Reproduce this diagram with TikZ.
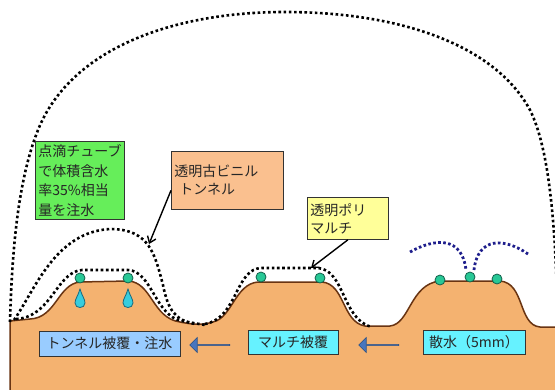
\documentclass[tikz,border=0pt]{standalone}
\usepackage{fontspec}
\setmainfont{Noto Sans CJK JP}
\usepackage{xcolor}
\usepackage{tikz}
\usetikzlibrary{arrows.meta,shapes.arrows}
\definecolor{soil}{RGB}{244,178,112}
\definecolor{soilline}{RGB}{105,52,18}
\definecolor{emit}{RGB}{40,200,150}
\definecolor{emitline}{RGB}{20,95,75}
\definecolor{drop}{RGB}{55,205,222}
\definecolor{dropline}{RGB}{25,105,125}
\definecolor{navy}{RGB}{30,30,140}
\definecolor{dripgreen}{RGB}{102,238,90}
\definecolor{peach}{RGB}{250,192,143}
\definecolor{paleyellow}{RGB}{255,255,153}
\definecolor{skyblue}{RGB}{153,204,255}
\definecolor{aqua}{RGB}{102,242,255}
\definecolor{arrblue}{RGB}{72,118,190}
\definecolor{arrline}{RGB}{45,80,130}

\begin{document}
\begin{tikzpicture}[x=1pt, y=-1pt,
    dots/.style={line width=2.6pt, dash pattern=on 2.6pt off 2.6pt},
    spray/.style={draw=navy, line width=2.8pt, dash pattern=on 2.6pt off 2.4pt},
    emitter/.style={circle, fill=emit, draw=emitline, line width=0.8pt,
                    minimum size=10pt, inner sep=0pt},
    note/.style={rectangle, draw=black!80, line width=0.8pt, align=left,
                 inner sep=3pt, anchor=north west, text=black!85,
                 font={\fontsize{14}{18}\selectfont}},
    dripnote/.style={note, fill=dripgreen, minimum width=88pt, minimum height=78pt,
                     font={\fontsize{14}{19.5}\selectfont}},
    stagebox/.style={rectangle, draw=black!80, line width=0.8pt, inner sep=0pt,
                     minimum height=25pt, text=black!85, font={\fontsize{14}{18}\selectfont}},
    flow/.style={single arrow, shape border rotate=180, fill=arrblue, draw=arrline,
                 line width=0.6pt, minimum height=40pt, minimum width=15pt,
                 single arrow head extend=3.5pt, inner sep=0pt},
    pointer/.style={-{Straight Barb[length=6pt,width=9pt]}, line width=1.4pt}]
\clip (0,0) rectangle (555,389);
\fill[white] (0,0) rectangle (555,389);

\filldraw[fill=soil, draw=soilline, line width=1.5pt]
  (10,392) -- (10,321) -- (30,319) .. controls (56,318) and (58,284) .. (80,282)
  -- (128,281) .. controls (152,282) and (152,318) .. (180,322)
  .. controls (195,325) and (203,325) .. (213,322)
  .. controls (232,318) and (235,284) .. (258,282)
  -- (322,282) .. controls (345,284) and (342,322) .. (365,326)
  -- (390,326) .. controls (410,324) and (410,284) .. (440,281)
  -- (500,281) .. controls (525,283) and (518,325) .. (540,327)
  -- (558,327) -- (558,392) -- cycle;

\foreach \x in {80,128}
  \filldraw[fill=drop, draw=dropline, line width=0.8pt]
    (\x,289) .. controls (\x+2,296) and (\x+5,299) .. (\x+5,303)
    .. controls (\x+5,309) and (\x-5,309) .. (\x-5,303)
    .. controls (\x-5,299) and (\x-2,296) .. cycle;

\node[emitter] (e11) at (80,278) {};
\node[emitter] (e12) at (128,278) {};
\node[emitter] (e21) at (261,277) {};
\node[emitter] (e22) at (320,278) {};
\node[emitter] (e31) at (440,280) {};
\node[emitter] (e32) at (470,277) {};
\node[emitter] (e33) at (497,279) {};

\draw[dots] (10,322) .. controls (12,250) and (18,180) .. (38,130)
  .. controls (70,50) and (170,12) .. (285,12)
  .. controls (400,12) and (495,45) .. (530,110)
  .. controls (550,150) and (556,230) .. (558,330);
\draw[dots] (14,320) .. controls (35,290) and (55,232) .. (110,229)
  .. controls (150,229) and (155,255) .. (163,285)
  .. controls (168,310) and (175,320) .. (195,324);
\draw[dots] (16,319) .. controls (52,317) and (56,272) .. (82,270)
  -- (128,270) .. controls (152,271) and (155,316) .. (182,321) -- (205,325);
\draw[dots] (205,324) .. controls (238,318) and (235,268) .. (262,268)
  -- (318,268) .. controls (345,270) and (342,320) .. (372,327);

\draw[spray] (410,252) .. controls (435,238) and (462,236) .. (466,270);
\draw[spray] (474,270) .. controls (478,236) and (505,238) .. (528,254);

\coordinate (tunnelpt) at (149,244);
\coordinate (mulchpt) at (311,268);

\node[dripnote] (drip) at (35,141) {点滴チューブ\\で体積含水\\率35\%相当\\量を注水};
\node[note, fill=peach, text width=106pt, minimum height=58pt] (tunnel) at (171,151)
  {透明古ビニル\\\hspace*{5pt}トンネル};
\node[note, fill=paleyellow, text width=75pt, minimum height=42pt] (mulch) at (307,197)
  {透明ポリ\\マルチ};

\draw[pointer] ([yshift=-10pt]tunnel.west) -- (tunnelpt);
\draw[pointer] (mulch.south) -- (mulchpt);

\node[stagebox, fill=skyblue, minimum width=141pt] (covertunnel) at (109.5,343.5) {トンネル被覆・注水};
\node[stagebox, fill=aqua, minimum width=90pt, minimum height=24pt] (covermulch) at (293,342) {マルチ被覆};
\node[stagebox, fill=aqua, minimum width=102pt, minimum height=24pt] (sprinkle) at (474,342) {散水（5mm）};

\node[flow] (arrA) at (210,345) {};
\node[flow] (arrB) at (379,345) {};
\end{tikzpicture}
\end{document}
